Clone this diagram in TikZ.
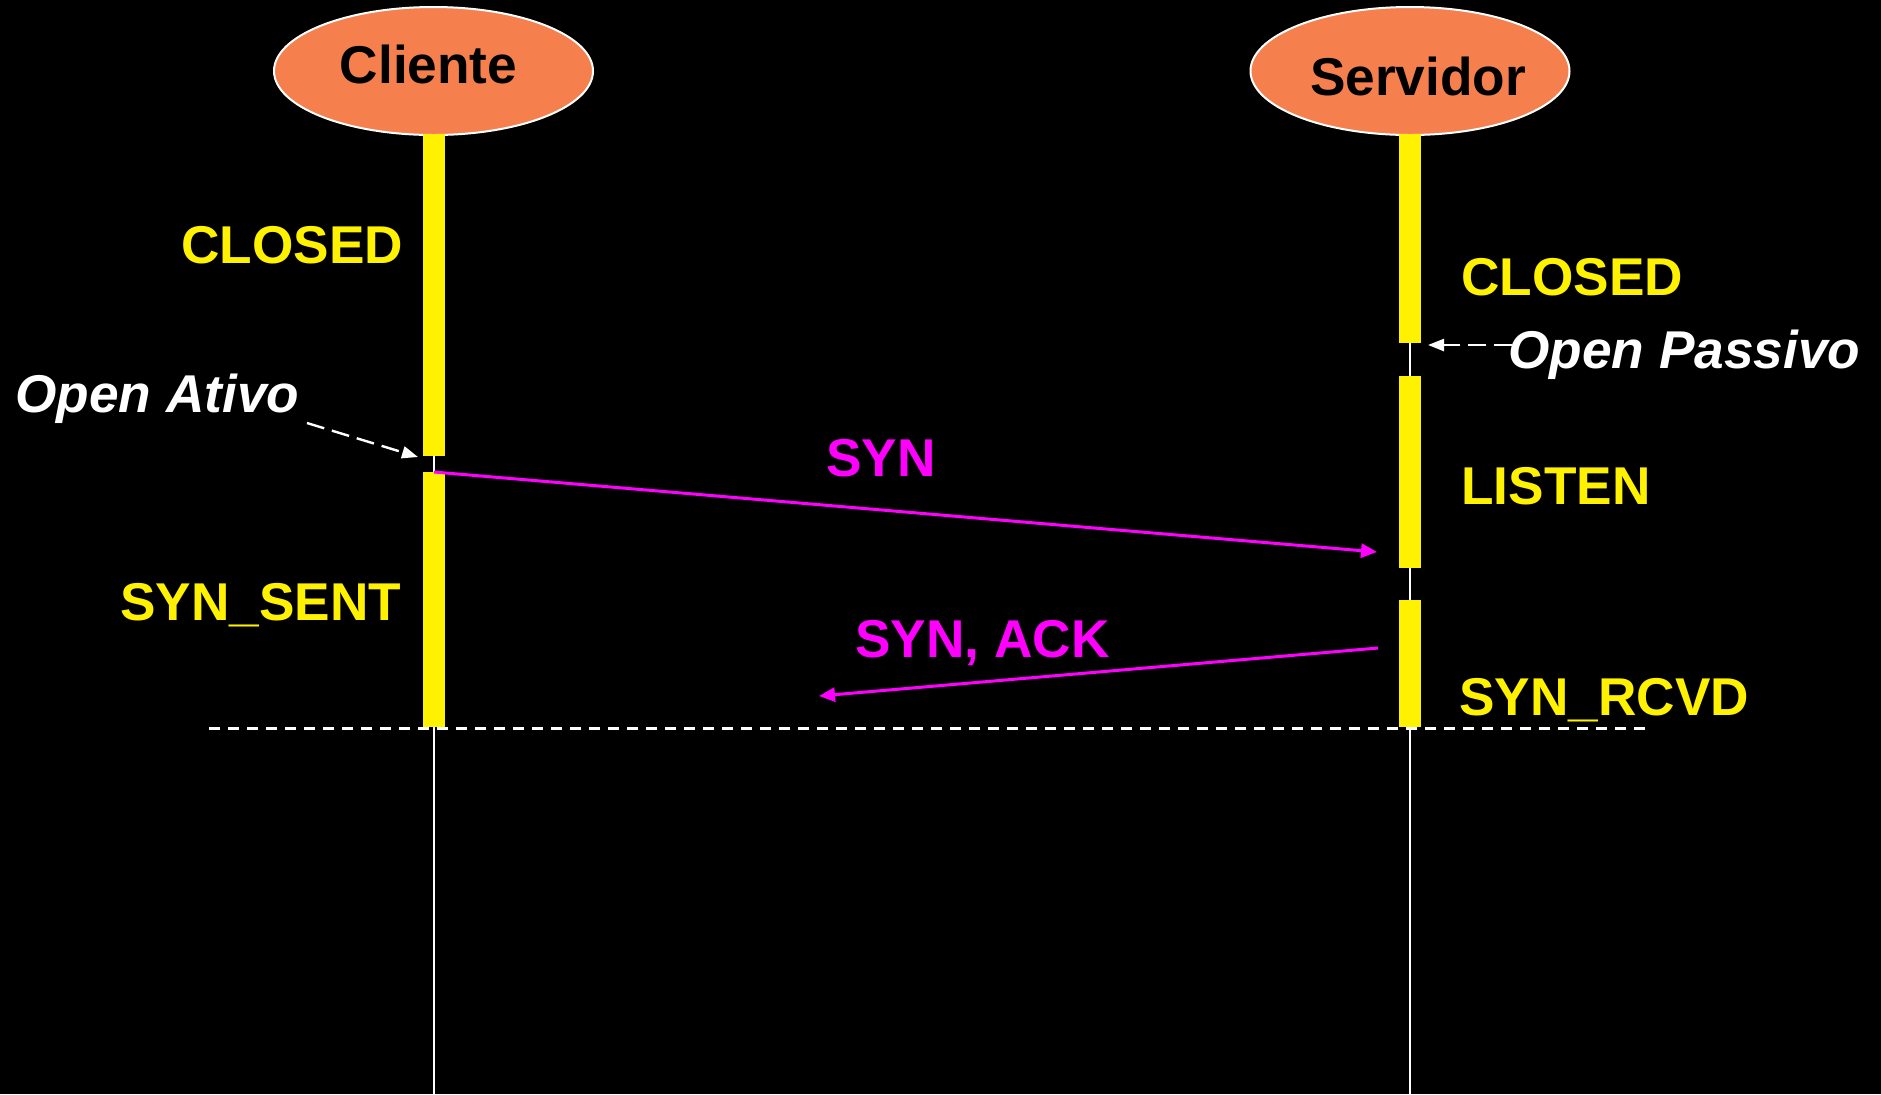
\documentclass[tikz,border=0pt]{standalone}
\usepackage{fontspec}
\setmainfont{Liberation Sans}
\usetikzlibrary{arrows.meta,shapes.geometric}
\definecolor{orng}{RGB}{245,128,78}
\definecolor{mag}{RGB}{255,0,255}
\begin{document}
\begin{tikzpicture}[x=0.5pt,y=-0.5pt,
  actor/.style={ellipse, draw=white, line width=1pt, fill=orng, minimum width=159.5pt, minimum height=64pt, inner sep=0pt},
  actortext/.style={anchor=base, inner sep=0pt, font=\fontsize{26.6}{30}\selectfont\bfseries, text=black},
  state/.style={anchor=base west, inner sep=0pt, font=\fontsize{26.6}{30}\selectfont\bfseries, text=yellow},
  msgtext/.style={anchor=base west, inner sep=0pt, font=\fontsize{26.6}{30}\selectfont\bfseries, text=mag},
  note/.style={anchor=base west, inner sep=0pt, font=\fontsize{26.6}{30}\selectfont\bfseries\itshape, text=white},
  lifeline/.style={draw=white, line width=0.75pt},
  actbar/.style={fill=yellow},
  msg/.style={draw=mag, line width=1.5pt, -{Triangle[length=8pt,width=7pt]}},
  notearrow/.style={draw=white, line width=1.2pt, dash pattern=on 9pt off 4pt, -{Triangle[length=8pt,width=6pt]}},
  sep/.style={draw=white, line width=1.5pt, dash pattern=on 5.5pt off 4pt}]
\useasboundingbox (0,0) rectangle (1881,1094);
\fill[black] (0,0) rectangle (1881,1094);
% lifelines
\draw[lifeline] (434,134) -- (434,1094);
\draw[lifeline] (1410,134) -- (1410,1094);
% actors
\node[actor] (cli) at (433.5,71) {};
\node[actor] (srv) at (1410,71) {};
\node[actortext] (clit) at (428.5,83) {Cliente};
\node[actortext] (srvt) at (1418,95) {Servidor};
% activation bars
\fill[actbar] (423,134) rectangle (445,456);
\fill[actbar] (423,472) rectangle (445,727);
\fill[actbar] (1399,134) rectangle (1421,343);
\fill[actbar] (1399,376) rectangle (1421,568);
\fill[actbar] (1399,600) rectangle (1421,727);
% states
\node[state] (c1) at (181,263) {CLOSED};
\node[state] (s1) at (1461,295) {CLOSED};
\node[state] (s2) at (1461,504) {LISTEN};
\node[state] (c2) at (120,620) {SYN\_SENT};
\node[state] (s3) at (1459,715) {SYN\_RCVD};
% notes
\node[note] (oa) at (15,412) {Open Ativo};
\node[note] (op) at (1508,368) {Open Passivo};
\coordinate (oaS) at (307,423);
\coordinate (oaE) at (418,457);
\coordinate (opS) at (1512,345);
\coordinate (opE) at (1428,345);
\draw[notearrow] (oaS) -- (oaE);
\draw[notearrow] (opS) -- (opE);
% messages
\coordinate (synS) at (434,472);
\coordinate (synE) at (1377,552);
\coordinate (ackS) at (1378,648);
\coordinate (ackE) at (819,696);
\draw[msg] (synS) -- (synE);
\draw[msg] (ackS) -- (ackE);
\node[msgtext] (syn) at (826,476) {SYN};
\node[msgtext] (ack) at (855,657) {SYN, ACK};
% separator
\coordinate (sepL) at (209,728);
\coordinate (sepR) at (1650,728);
\draw[sep] (sepL) -- (sepR);
\end{tikzpicture}
\end{document}
